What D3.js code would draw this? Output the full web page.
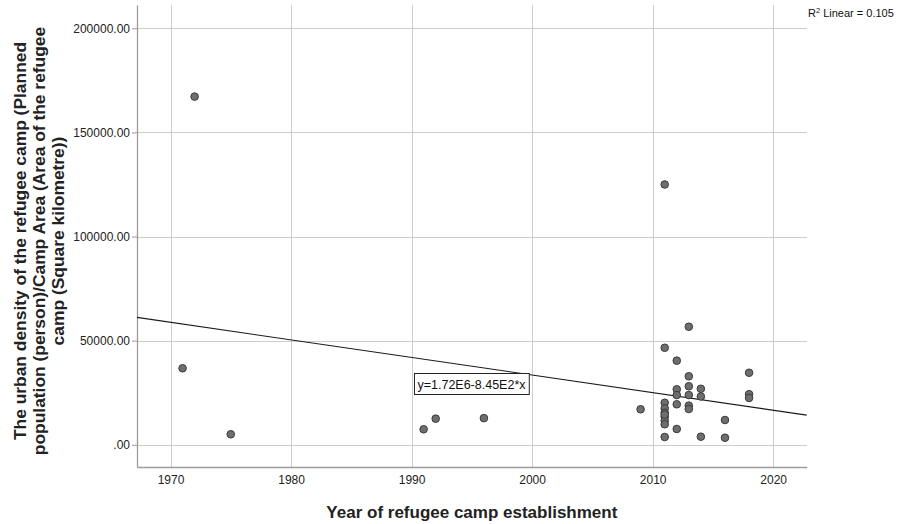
<!DOCTYPE html>
<html>
<head>
<meta charset="utf-8">
<script src="https://cdn.jsdelivr.net/npm/d3@7"></script>
<style>
  html, body { margin: 0; padding: 0; background: #fff; }
  svg { display: block; font-family: "Liberation Sans", Arial, sans-serif; }
</style>
</head>
<body>
<svg id="chart" width="900" height="524"></svg>
<script>
// Year each camp was established
const years = [
  1971, 1972, 1975, 1991, 1992, 1996, 2009,
  2011, 2011, 2011, 2011, 2011, 2011, 2011, 2011, 2011, 2011,
  2012, 2012, 2012, 2012, 2012,
  2013, 2013, 2013, 2013, 2013, 2013,
  2014, 2014, 2014,
  2016, 2016,
  2018, 2018, 2018
];
// Planned population per square kilometre of camp area
const densities = [
  36750, 167200, 5050, 7450, 12550, 12800, 17050,
  125000, 46600, 20200, 17500, 15400, 13500, 11600, 9850, 3750, 14500,
  40400, 26650, 23900, 19450, 7600,
  56700, 32900, 28100, 23900, 18800, 17200,
  26900, 23200, 3900,
  11900, 3400,
  34600, 24300, 22500
];

// Linear fit y = a + b*x and its goodness of fit
const fitIntercept = 1.7235e6;
const fitSlope = -845;
const rSquared = 0.105;

const xTicks = [1970, 1980, 1990, 2000, 2010, 2020];
const yTicks = [0, 50000, 100000, 150000, 200000];

const xTitle = "Year of refugee camp establishment";
const yTitleLines = [
  "The urban density of the refugee camp (Planned",
  "population (person)/Camp Area (Area of the refugee",
  "camp (Square kilometre))"
];

const svg = d3.select("#chart");
const plot = { left: 137, right: 806.7, top: 5, bottom: 467 };

const x = d3.scaleLinear().domain([1967.22, 2022.78]).range([plot.left, plot.right]);
const y = d3.scaleLinear().domain([-10660, 211190]).range([plot.bottom, plot.top]);

// gridlines
const grid = svg.append("g").attr("stroke", "#cdcdcd").attr("stroke-width", 1).attr("shape-rendering", "crispEdges");
grid.selectAll(".gx").data(xTicks).join("line")
  .attr("x1", d => Math.round(x(d)) + 0.5).attr("x2", d => Math.round(x(d)) + 0.5)
  .attr("y1", plot.top).attr("y2", plot.bottom);
grid.selectAll(".gy").data(yTicks).join("line")
  .attr("x1", plot.left).attr("x2", plot.right)
  .attr("y1", d => Math.round(y(d)) + 0.5).attr("y2", d => Math.round(y(d)) + 0.5);

// axes
const fmtY = v => d3.format(".2f")(v).replace(/^0\./, ".");
const yAxis = d3.axisLeft(y).tickValues(yTicks).tickFormat(fmtY).tickSize(5).tickSizeOuter(0);
const xAxis = d3.axisBottom(x).tickValues(xTicks).tickFormat(d3.format("d")).tickSize(0).tickSizeOuter(0).tickPadding(8);

const gy = svg.append("g").attr("transform", `translate(${plot.left},0)`).call(yAxis);
const gx = svg.append("g").attr("transform", `translate(0,${plot.bottom})`).call(xAxis);
[gx, gy].forEach(g => {
  g.select(".domain").attr("stroke", "#9c9c9c").attr("stroke-width", 1.3);
  g.selectAll(".tick line").attr("stroke", "#9c9c9c");
  g.selectAll(".tick text").attr("fill", "#222").attr("font-size", 12)
    .attr("font-family", "'Liberation Sans', Arial, sans-serif");
});
gy.selectAll(".tick text").attr("x", -7);

// fit line across the plotting area
const xDom = x.domain();
svg.append("line")
  .attr("x1", x(xDom[0])).attr("y1", y(fitIntercept + fitSlope * xDom[0]))
  .attr("x2", x(xDom[1])).attr("y2", y(fitIntercept + fitSlope * xDom[1]))
  .attr("stroke", "#1a1a1a").attr("stroke-width", 1.1);

// points
const pts = years.map((yr, i) => ({ yr, v: densities[i] }));
svg.append("g").selectAll("circle").data(pts).join("circle")
  .attr("cx", d => x(d.yr)).attr("cy", d => y(d.v)).attr("r", 3.8)
  .attr("fill", "#6e6e6e").attr("stroke", "#3a3a3a").attr("stroke-width", 1);

// fit equation label
const sci = v => {
  const e = Math.floor(Math.log10(Math.abs(v)));
  return (v / Math.pow(10, e)).toFixed(2) + "E" + e;
};
const eqText = "y=" + sci(fitIntercept) + (fitSlope < 0 ? "-" : "+") + sci(Math.abs(fitSlope)) + "*x";
const eq = svg.append("g");
const eqLabel = eq.append("text")
  .attr("x", 471.5).attr("y", 388.5).attr("text-anchor", "middle")
  .attr("font-size", 12.5).attr("fill", "#111").text(eqText);
const bb = eqLabel.node().getBBox();
eq.insert("rect", "text")
  .attr("x", bb.x - 3).attr("y", 373.5).attr("width", bb.width + 6).attr("height", 21)
  .attr("fill", "#fff").attr("stroke", "#222").attr("stroke-width", 1);

// R squared note
const r2 = svg.append("text").attr("x", 808).attr("y", 17).attr("font-size", 11).attr("fill", "#111");
r2.append("tspan").text("R");
r2.append("tspan").attr("font-size", 7.5).attr("dy", -4).text("2");
r2.append("tspan").attr("dy", 4).text(" Linear = " + d3.format(".3f")(rSquared));

// axis titles
svg.append("text").attr("x", (plot.left + plot.right) / 2).attr("y", 518)
  .attr("text-anchor", "middle").attr("font-size", 17).attr("font-weight", "bold")
  .attr("fill", "#222").text(xTitle);

const yt = svg.append("text")
  .attr("transform", `translate(26,241) rotate(-90)`)
  .attr("text-anchor", "middle").attr("font-size", 17.4).attr("font-weight", "bold").attr("fill", "#222");
yTitleLines.forEach((line, i) => {
  yt.append("tspan").attr("x", 0).attr("y", i * 19).text(line);
});
</script>
</body>
</html>
